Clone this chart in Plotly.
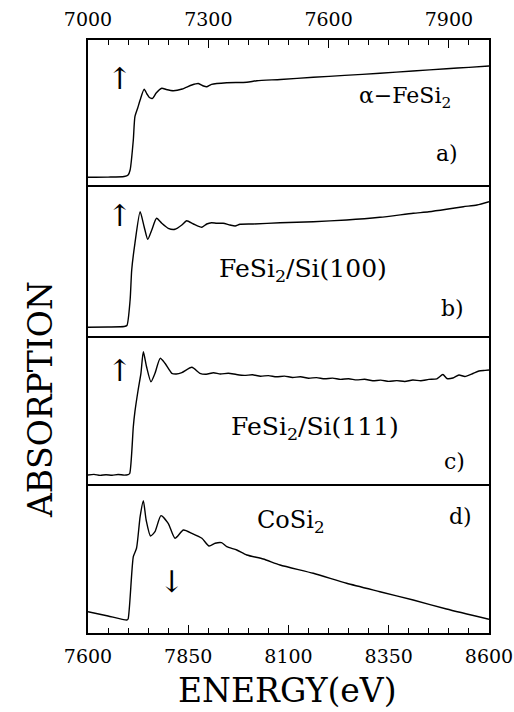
import plotly.graph_objects as go

# ---------------- data (energy in eV, absorption in arbitrary units) ----------------
# a) alpha-FeSi2, Fe K-edge
energy_a = [7000, 7050, 7090, 7100, 7105, 7113, 7117, 7124, 7130, 7140, 7147, 7153, 7161, 7170,
            7184, 7195, 7213, 7235, 7259, 7275, 7288, 7296, 7308, 7346, 7396, 7421, 7480,
            7562, 7640, 7728, 7810, 7894, 7950, 8000]
absorb_a = [7.7, 7.9, 8.5, 10, 15, 45, 68.3, 77, 85, 95.7, 91, 87.5, 86.7, 92,
            96.7, 95.5, 94.3, 96, 100, 101.5, 99, 98.3, 100.7, 102.3, 102.7, 104.3, 105.5,
            107.7, 109.6, 111.7, 114.0, 116.3, 117.6, 119]

# b) FeSi2/Si(100)
energy_b = [7000, 7050, 7090, 7097, 7105, 7109, 7117, 7130, 7140, 7149, 7159, 7171, 7184, 7200,
            7217, 7234, 7246, 7263, 7284, 7296, 7308, 7321, 7337, 7354, 7367, 7379, 7412,
            7479, 7562, 7645, 7728, 7811, 7850, 7894, 7936, 7970, 8000]
absorb_b = [8.7, 9.0, 9.5, 10.5, 36, 66, 92.7, 124.3, 109.3, 96.7, 106, 117.7, 112.7, 107.7,
            106.7, 111, 115.3, 112, 108.7, 112, 113.3, 112.7, 112.7, 111, 110, 111.7, 112,
            113.3, 114.3, 116, 118.7, 122.7, 124.2, 126.7, 129.3, 131.0, 134.3]

# c) FeSi2/Si(111)
energy_c = [7000, 7015, 7030, 7045, 7060, 7075, 7090, 7100, 7104, 7113, 7117, 7125, 7132, 7138,
            7146, 7157, 7167, 7180, 7192, 7209, 7220, 7234, 7259, 7279, 7295, 7313,
            7330, 7350, 7370, 7390, 7410, 7430, 7450, 7470, 7490, 7510, 7530, 7550, 7570,
            7590, 7610, 7630, 7650, 7670, 7690, 7710, 7730, 7750, 7770, 7790, 7810, 7830,
            7850, 7870, 7885, 7895, 7910, 7925, 7940, 7960, 7975, 7990, 8000]
absorb_c = [9.0, 9.6, 8.6, 9.3, 8.7, 9.5, 8.9, 9.4, 10.5, 57.3, 72.3, 94, 110.7, 132.3,
            117.3, 102.3, 110.7, 125.7, 120.7, 110.7, 110, 111.3, 116.7, 110.7, 109.8, 111.3,
            110.0, 110.8, 109.5, 108.6, 109.2, 107.8, 108.4, 107.2, 107.9, 106.5, 107.3, 105.8, 106.4,
            105.2, 105.9, 104.6, 105.3, 104.1, 104.8, 103.2, 103.9, 102.6, 103.4, 102.5, 104.0, 103.3,
            104.6, 105.2, 109.5, 105.5, 106.0, 109.0, 107.5, 110.5, 113.0, 113.6, 114.0]

# d) CoSi2, Co K-edge
energy_d = [7600, 7650, 7697, 7700, 7713, 7721, 7730, 7738, 7745, 7756, 7767, 7782, 7800, 7817,
            7838, 7859, 7884, 7902, 7917, 7933, 7946, 7971, 7996, 8037, 8079, 8162, 8245,
            8328, 8411, 8494, 8600]
absorb_d = [21.3, 17, 13, 14, 76.3, 84.7, 116.3, 132.3, 113, 97, 101.3, 117.3, 109.7, 94.7,
            103, 99.7, 94.7, 87, 89.7, 90.3, 86.3, 83, 78, 74, 68, 59.7, 49.7,
            41.3, 33, 24, 13.7]

top_ticks = [7000, 7300, 7600, 7900]
bottom_ticks = [7600, 7850, 8100, 8350, 8600]
sample_labels = ["α−FeSi<sub>2</sub>", "FeSi<sub>2</sub>/Si(100)", "FeSi<sub>2</sub>/Si(111)", "CoSi<sub>2</sub>"]
panel_tags = ["a)", "b)", "c)", "d)"]

# ---------------- figure ----------------
SERIF = "DejaVu Serif"
line_style = dict(color="black", width=1.4, shape="spline", smoothing=0.6)

fig = go.Figure()
series = [(energy_a, absorb_a), (energy_b, absorb_b), (energy_c, absorb_c), (energy_d, absorb_d)]
for i, (xs, ys) in enumerate(series):
    n = "" if i == 0 else str(i + 1)
    fig.add_trace(go.Scatter(x=xs, y=ys, mode="lines", line=line_style,
                             xaxis="x" + n, yaxis="y" + n, showlegend=False,
                             hoverinfo="skip"))

domains = [[0.7555, 1.0], [0.5008, 0.7555], [0.2513, 0.5008], [0.0, 0.2513]]
yranges = [[0, 145], [0, 151], [0, 148], [0, 149]]

base = dict(showline=True, linecolor="black", linewidth=1.5, showgrid=False, zeroline=False,
            automargin=False)

layout = dict(
    width=514, height=712,
    margin=dict(l=88, r=25, t=40, b=79, autoexpand=False),
    paper_bgcolor="white", plot_bgcolor="white",
    font=dict(family=SERIF, color="black"),
    showlegend=False,
)

# top axis (panel a) - draws top line and (mirrored) a/b divider
layout["xaxis"] = dict(base, mirror=True, domain=[0, 1], range=[7000, 8000], anchor="y", side="top",
                       tickmode="array", tickvals=top_ticks, ticktext=[str(t) for t in top_ticks],
                       ticks="inside", ticklen=8, tickwidth=1.2, tickcolor="black",
                       minor=dict(dtick=50, tick0=7000, ticks="inside", ticklen=5,
                                  tickwidth=1.1, tickcolor="black"),
                       tickfont=dict(family=SERIF, size=19, color="black"),
                       ticklabelstandoff=5)
# panels b, c: only bottom line (divider to next panel)
for k in (2, 3):
    layout[f"xaxis{k}"] = dict(base, mirror=False, domain=[0, 1], range=[7000, 8000],
                               anchor=f"y{k}", side="bottom", showticklabels=False, ticks="")
# bottom axis (panel d)
layout["xaxis4"] = dict(base, mirror=False, domain=[0, 1], range=[7600, 8600], anchor="y4", side="bottom",
                        tickmode="array", tickvals=bottom_ticks,
                        ticktext=[str(t) for t in bottom_ticks],
                        ticks="inside", ticklen=8, tickwidth=1.2, tickcolor="black",
                        minor=dict(dtick=50, tick0=7600, ticks="inside", ticklen=5,
                                   tickwidth=1.1, tickcolor="black"),
                        tickfont=dict(family=SERIF, size=19, color="black"),
                        ticklabelstandoff=5, ticklabeloverflow="allow")
for i in range(4):
    n = "" if i == 0 else str(i + 1)
    layout["yaxis" + n] = dict(base, mirror=True, domain=domains[i], range=yranges[i],
                               anchor="x" + n, showticklabels=False, ticks="")

fig.update_layout(**layout)

# ---------------- annotations ----------------
ann = []
def refs(i):
    n = "" if i == 0 else str(i + 1)
    return "x" + n + " domain", "y" + n + " domain"

label_pos = [(0.79, 0.60, 22), (0.535, 0.437, 25), (0.566, 0.378, 25), (0.506, 0.745, 24)]
tag_pos = [(0.895, 0.22), (0.91, 0.179), (0.913, 0.149), (0.928, 0.779)]
for i in range(4):
    xr, yr = refs(i)
    lx, ly, ls = label_pos[i]
    ann.append(dict(x=lx, y=ly, xref=xr, yref=yr, text=sample_labels[i], showarrow=False,
                    font=dict(family=SERIF, size=ls, color="black"),
                    xanchor="center", yanchor="middle"))
    tx, ty = tag_pos[i]
    ann.append(dict(x=tx, y=ty, xref=xr, yref=yr, text=panel_tags[i], showarrow=False,
                    font=dict(family=SERIF, size=22, color="black"),
                    xanchor="center", yanchor="middle"))

# edge-position arrows (glyphs)
arrow_glyphs = ["↑", "↑", "↑", "↓"]
arrow_pos = [(0.0798, 0.735), (0.0798, 0.795), (0.0798, 0.765), (0.209, 0.345)]
for i, (gx, gy) in enumerate(arrow_pos):
    xr, yr = refs(i)
    ann.append(dict(x=gx, y=gy, xref=xr, yref=yr, text=arrow_glyphs[i], showarrow=False,
                    font=dict(family="DejaVu Serif", size=30, color="black"),
                    xanchor="center", yanchor="middle"))

# axis titles
ann.append(dict(x=(40 - 88) / 401.0, y=(633 - 400) / 593.0, xref="paper", yref="paper",
                text="ABSORPTION", showarrow=False, textangle=-90,
                font=dict(family=SERIF, size=33, color="black"),
                xanchor="center", yanchor="middle"))
ann.append(dict(x=(287 - 88) / 401.0, y=(633 - 690) / 593.0, xref="paper", yref="paper",
                text="ENERGY(eV)", showarrow=False,
                font=dict(family=SERIF, size=33, color="black"),
                xanchor="center", yanchor="middle"))

fig.update_layout(annotations=ann)
fig.write_html("out.html", config={"displayModeBar": False},
               post_script="document.body.style.margin='0';document.body.style.padding='0';")
